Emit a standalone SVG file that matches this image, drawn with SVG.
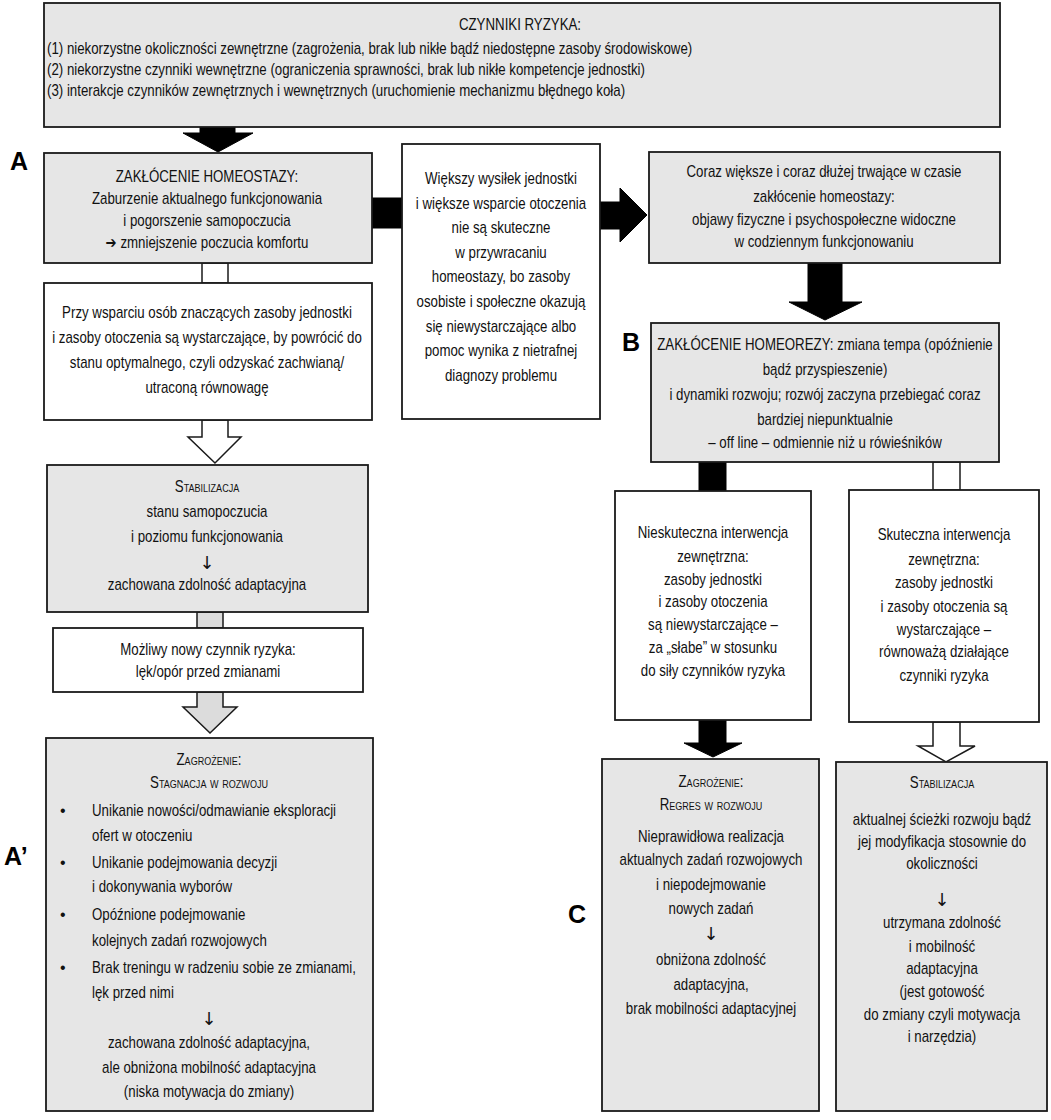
<svg xmlns="http://www.w3.org/2000/svg" width="1051" height="1120" viewBox="0 0 1051 1120">
<style>
.g{fill:#e6e6e6;stroke:#1a1a1a;stroke-width:1.8}
.w{fill:#ffffff;stroke:#1a1a1a;stroke-width:1.8}
.blk{fill:#000000;stroke:#000000;stroke-width:1}
.hol{fill:#ffffff;stroke:#1a1a1a;stroke-width:1.5}
.gra{fill:#dcdcdc;stroke:#1a1a1a;stroke-width:1.5}
.t{font-family:"Liberation Sans","DejaVu Sans",sans-serif;font-size:16px;fill:#111;text-anchor:middle}
.s{text-anchor:start}
.sc{font-variant:small-caps}
.ar{font-family:"DejaVu Sans",sans-serif;font-size:18px;fill:#111;text-anchor:middle;opacity:0.99}
.lbl{font-family:"Liberation Sans",sans-serif;font-weight:bold;font-size:25px;fill:#000}
</style>
<rect width="1051" height="1120" fill="#ffffff"/>

<g id="connectors">
<polygon class="blk" points="200,127 235,127 235,133 253,133 218,152 183,133 200,133"/>
<rect class="blk" x="372" y="198" width="30" height="30"/>
<polygon class="blk" points="600,202 620,202 620,188 647,215 620,242 620,229 600,229"/>
<polygon class="blk" points="808,263 842,263 842,302 862,302 825,320 789,302 808,302"/>
<rect class="hol" x="202" y="263" width="26" height="20"/>
<polygon class="hol" points="202,420 228,420 228,437 241,437 215,463 188,437 202,437"/>
<rect class="gra" x="197" y="612" width="26" height="16"/>
<polygon class="gra" points="197,692 223,692 223,707 237,707 210,733 183,707 197,707"/>
<rect class="blk" x="699" y="462" width="27" height="29"/>
<rect class="hol" x="933" y="462" width="27" height="28"/>
<polygon class="blk" points="699,720 726,720 726,743 742,743 713,757 684,743 699,743"/>
<polygon class="hol" points="933,722 960,722 960,746 975,746 946,762 918,746 933,746"/>
</g>

<g id="risk-factors">
<rect class="g" x="44" y="3" width="956" height="124"/>
<text class="t" transform="translate(520,30) scale(0.83,1)">CZYNNIKI RYZYKA:</text>
<text class="t s" transform="translate(47,54) scale(0.83,1)">(1) niekorzystne okoliczności zewnętrzne (zagrożenia, brak lub nikłe bądź niedostępne zasoby środowiskowe)</text>
<text class="t s" transform="translate(47,75) scale(0.83,1)">(2) niekorzystne czynniki wewnętrzne (ograniczenia sprawności, brak lub nikłe kompetencje jednostki)</text>
<text class="t s" transform="translate(47,96) scale(0.83,1)">(3) interakcje czynników zewnętrznych i wewnętrznych (uruchomienie mechanizmu błędnego koła)</text>
</g>

<g id="label-A"><text class="lbl" x="10" y="170">A</text></g>
<g id="label-B"><text class="lbl" x="622" y="351">B</text></g>
<g id="label-A2"><text class="lbl" x="4" y="865">A’</text></g>
<g id="label-C"><text class="lbl" x="568" y="923">C</text></g>

<g id="homeostasis">
<rect class="g" x="44" y="153" width="328" height="110"/>
<text class="t" transform="translate(207,182) scale(0.83,1)">ZAKŁÓCENIE HOMEOSTAZY:</text>
<text class="t" transform="translate(207,204) scale(0.83,1)">Zaburzenie aktualnego funkcjonowania</text>
<text class="t" transform="translate(207,226) scale(0.83,1)">i pogorszenie samopoczucia</text>
<text class="t" transform="translate(207,248) scale(0.83,1)">➔ zmniejszenie poczucia komfortu</text>
</g>

<g id="support">
<rect class="w" x="44" y="283" width="328" height="137"/>
<text class="t" transform="translate(207,318) scale(0.83,1)">Przy wsparciu osób znaczących zasoby jednostki</text>
<text class="t" transform="translate(207,343) scale(0.83,1)">i zasoby otoczenia są wystarczające, by powrócić do</text>
<text class="t" transform="translate(207,368) scale(0.83,1)">stanu optymalnego,  czyli odzyskać zachwianą/</text>
<text class="t" transform="translate(207,393) scale(0.83,1)">utraconą równowagę</text>
</g>

<g id="effort">
<rect class="w" x="402" y="144" width="198" height="275"/>
<text class="t" transform="translate(501,184) scale(0.83,1)">Większy wysiłek jednostki</text>
<text class="t" transform="translate(501,209) scale(0.83,1)">i większe wsparcie otoczenia</text>
<text class="t" transform="translate(501,233) scale(0.83,1)">nie są skuteczne</text>
<text class="t" transform="translate(501,258) scale(0.83,1)">w przywracaniu</text>
<text class="t" transform="translate(501,282) scale(0.83,1)">homeostazy, bo zasoby</text>
<text class="t" transform="translate(501,307) scale(0.83,1)">osobiste i społeczne okazują</text>
<text class="t" transform="translate(501,332) scale(0.83,1)">się niewystarczające albo</text>
<text class="t" transform="translate(501,356) scale(0.83,1)">pomoc wynika z nietrafnej</text>
<text class="t" transform="translate(501,381) scale(0.83,1)">diagnozy problemu</text>
</g>

<g id="prolonged">
<rect class="g" x="649" y="152" width="351" height="111"/>
<text class="t" transform="translate(824,177) scale(0.83,1)">Coraz większe i coraz dłużej trwające w czasie</text>
<text class="t" transform="translate(824,202) scale(0.83,1)">zakłócenie homeostazy:</text>
<text class="t" transform="translate(824,225) scale(0.83,1)">objawy fizyczne i psychospołeczne widoczne</text>
<text class="t" transform="translate(824,247) scale(0.83,1)">w codziennym funkcjonowaniu</text>
</g>

<g id="homeorhesis">
<rect class="g" x="651" y="323" width="348" height="139"/>
<text class="t" transform="translate(825,350) scale(0.83,1)">ZAKŁÓCENIE HOMEOREZY: zmiana tempa (opóźnienie</text>
<text class="t" transform="translate(825,375) scale(0.83,1)">bądź przyspieszenie)</text>
<text class="t" transform="translate(825,400) scale(0.83,1)">i dynamiki rozwoju; rozwój zaczyna przebiegać coraz</text>
<text class="t" transform="translate(825,425) scale(0.83,1)">bardziej niepunktualnie</text>
<text class="t" transform="translate(825,448) scale(0.83,1)">– off line – odmiennie niż u rówieśników</text>
</g>

<g id="stabilization-left">
<rect class="g" x="47" y="465" width="321" height="147"/>
<text class="t sc" transform="translate(207,492) scale(0.83,1)">Stabilizacja</text>
<text class="t" transform="translate(207,517) scale(0.83,1)">stanu samopoczucia</text>
<text class="t" transform="translate(207,542) scale(0.83,1)">i poziomu funkcjonowania</text>
<text class="ar" x="207" y="569">↓</text>
<text class="t" transform="translate(207,590) scale(0.83,1)">zachowana zdolność adaptacyjna</text>
</g>

<g id="new-risk">
<rect class="w" x="53" y="628" width="310" height="64"/>
<text class="t" transform="translate(208,655) scale(0.83,1)">Możliwy nowy czynnik ryzyka:</text>
<text class="t" transform="translate(208,677) scale(0.83,1)">lęk/opór przed zmianami</text>
</g>

<g id="stagnation">
<rect class="g" x="46" y="738" width="327" height="373"/>
<text class="t sc" transform="translate(209,765) scale(0.83,1)">Zagrożenie:</text>
<text class="t sc" transform="translate(209,788) scale(0.83,1)">Stagnacja w rozwoju</text>
<text class="t s" transform="translate(60,816)">•</text>
<text class="t s" transform="translate(92,816) scale(0.83,1)">Unikanie nowości/odmawianie eksploracji</text>
<text class="t s" transform="translate(92,841) scale(0.83,1)">ofert w otoczeniu</text>
<text class="t s" transform="translate(60,868)">•</text>
<text class="t s" transform="translate(92,868) scale(0.83,1)">Unikanie podejmowania decyzji</text>
<text class="t s" transform="translate(92,892) scale(0.83,1)">i dokonywania wyborów</text>
<text class="t s" transform="translate(60,920)">•</text>
<text class="t s" transform="translate(92,920) scale(0.83,1)">Opóźnione podejmowanie</text>
<text class="t s" transform="translate(92,946) scale(0.83,1)">kolejnych zadań rozwojowych</text>
<text class="t s" transform="translate(60,973)">•</text>
<text class="t s" transform="translate(92,973) scale(0.83,1)">Brak treningu w radzeniu sobie ze zmianami,</text>
<text class="t s" transform="translate(92,998) scale(0.83,1)">lęk przed nimi</text>
<text class="ar" x="209" y="1025">↓</text>
<text class="t" transform="translate(209,1048) scale(0.83,1)">zachowana zdolność adaptacyjna,</text>
<text class="t" transform="translate(209,1073) scale(0.83,1)">ale obniżona mobilność adaptacyjna</text>
<text class="t" transform="translate(209,1097) scale(0.83,1)">(niska motywacja do zmiany)</text>
</g>

<g id="ineffective">
<rect class="w" x="615" y="491" width="196" height="229"/>
<text class="t" transform="translate(713,538) scale(0.83,1)">Nieskuteczna interwencja</text>
<text class="t" transform="translate(713,562) scale(0.83,1)">zewnętrzna:</text>
<text class="t" transform="translate(713,585) scale(0.83,1)">zasoby jednostki</text>
<text class="t" transform="translate(713,607) scale(0.83,1)">i zasoby otoczenia</text>
<text class="t" transform="translate(713,630) scale(0.83,1)">są niewystarczające –</text>
<text class="t" transform="translate(713,653) scale(0.83,1)">za „słabe” w stosunku</text>
<text class="t" transform="translate(713,676) scale(0.83,1)">do siły czynników ryzyka</text>
</g>

<g id="effective">
<rect class="w" x="849" y="490" width="190" height="232"/>
<text class="t" transform="translate(944,540) scale(0.83,1)">Skuteczna interwencja</text>
<text class="t" transform="translate(944,565) scale(0.83,1)">zewnętrzna:</text>
<text class="t" transform="translate(944,588) scale(0.83,1)">zasoby jednostki</text>
<text class="t" transform="translate(944,612) scale(0.83,1)">i zasoby otoczenia są</text>
<text class="t" transform="translate(944,635) scale(0.83,1)">wystarczające –</text>
<text class="t" transform="translate(944,657) scale(0.83,1)">równoważą działające</text>
<text class="t" transform="translate(944,681) scale(0.83,1)">czynniki ryzyka</text>
</g>

<g id="regression">
<rect class="g" x="602" y="759" width="217" height="352"/>
<text class="t sc" transform="translate(711,787) scale(0.83,1)">Zagrożenie:</text>
<text class="t sc" transform="translate(711,810) scale(0.83,1)">Regres w rozwoju</text>
<text class="t" transform="translate(711,842) scale(0.83,1)">Nieprawidłowa realizacja</text>
<text class="t" transform="translate(711,865) scale(0.83,1)">aktualnych zadań rozwojowych</text>
<text class="t" transform="translate(711,890) scale(0.83,1)">i niepodejmowanie</text>
<text class="t" transform="translate(711,914) scale(0.83,1)">nowych zadań</text>
<text class="ar" x="711" y="940">↓</text>
<text class="t" transform="translate(711,965) scale(0.83,1)">obniżona zdolność</text>
<text class="t" transform="translate(711,990) scale(0.83,1)">adaptacyjna,</text>
<text class="t" transform="translate(711,1014) scale(0.83,1)">brak mobilności adaptacyjnej</text>
</g>

<g id="stabilization-right">
<rect class="g" x="836" y="762" width="211" height="349"/>
<text class="t sc" transform="translate(942,788) scale(0.83,1)">Stabilizacja</text>
<text class="t" transform="translate(942,825) scale(0.83,1)">aktualnej ścieżki rozwoju bądź</text>
<text class="t" transform="translate(942,847) scale(0.83,1)">jej modyfikacja stosownie do</text>
<text class="t" transform="translate(942,869) scale(0.83,1)">okoliczności</text>
<text class="ar" x="942" y="906">↓</text>
<text class="t" transform="translate(942,928) scale(0.83,1)">utrzymana zdolność</text>
<text class="t" transform="translate(942,952) scale(0.83,1)">i mobilność</text>
<text class="t" transform="translate(942,974) scale(0.83,1)">adaptacyjna</text>
<text class="t" transform="translate(942,997) scale(0.83,1)">(jest gotowość</text>
<text class="t" transform="translate(942,1020) scale(0.83,1)">do zmiany czyli motywacja</text>
<text class="t" transform="translate(942,1042) scale(0.83,1)">i narzędzia)</text>
</g>
</svg>
